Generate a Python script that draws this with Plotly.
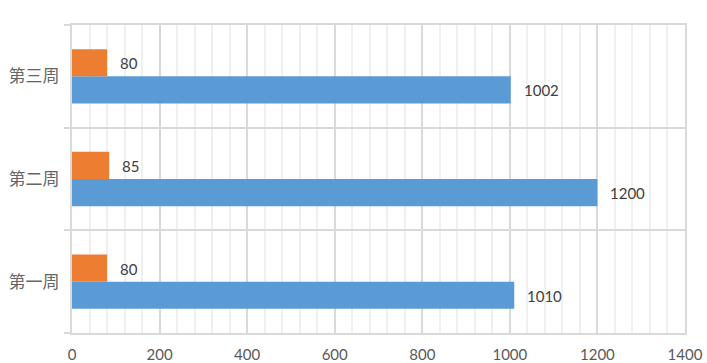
import plotly.graph_objects as go

categories = ["第一周", "第二周", "第三周"]
blue_values = [1010, 1200, 1002]
orange_values = [80, 85, 80]
x_ticks = [0, 200, 400, 600, 800, 1000, 1200, 1400]

BLUE = "#5B9BD5"
ORANGE = "#ED7D31"
GRID = "#D9D9D9"

fig = go.Figure()
fig.add_trace(go.Bar(y=categories, x=blue_values, orientation="h",
                     marker=dict(color=BLUE, line=dict(width=0)), name="A"))
fig.add_trace(go.Bar(y=categories, x=orange_values, orientation="h",
                     marker=dict(color=ORANGE, line=dict(width=0)), name="B"))

annotations = []
for c, v in zip(categories, blue_values):
    annotations.append(dict(x=v, y=c, text=str(v), showarrow=False, xanchor="left",
                            xshift=11, yshift=-14, font=dict(size=15, color="#404040", family="Lato")))
for c, v in zip(categories, orange_values):
    annotations.append(dict(x=v, y=c, text=str(v), showarrow=False, xanchor="left",
                            xshift=11, yshift=13, font=dict(size=15, color="#404040", family="Lato")))

fig.update_layout(
    width=707, height=363,
    margin=dict(l=72, r=22, t=25, b=30),
    paper_bgcolor="white", plot_bgcolor="white",
    barmode="group", bargap=0.47, bargroupgap=0,
    showlegend=False,
    annotations=annotations,
    xaxis=dict(range=[0, 1400], tickvals=x_ticks, showgrid=True, gridcolor=GRID, gridwidth=2,
               zeroline=False, showline=True, mirror=True, linecolor=GRID, linewidth=2,
               ticks="", ticklabelstandoff=7, automargin=False,
               tickfont=dict(size=15, color="#595959", family="Lato"),
               minor=dict(dtick=40, showgrid=True, gridcolor="#F0F0F0", gridwidth=2)),
    yaxis=dict(type="category", tickson="boundaries", showgrid=True, gridcolor=GRID, gridwidth=2,
               ticks="outside", ticklen=6, tickcolor=GRID, tickwidth=2,
               showline=True, mirror=True, linecolor=GRID, linewidth=2, zeroline=False,
               automargin=False, ticklabelstandoff=7,
               tickfont=dict(size=17, color="#666666", family="Noto Sans CJK SC")),
)

fig.write_html("out.html")
